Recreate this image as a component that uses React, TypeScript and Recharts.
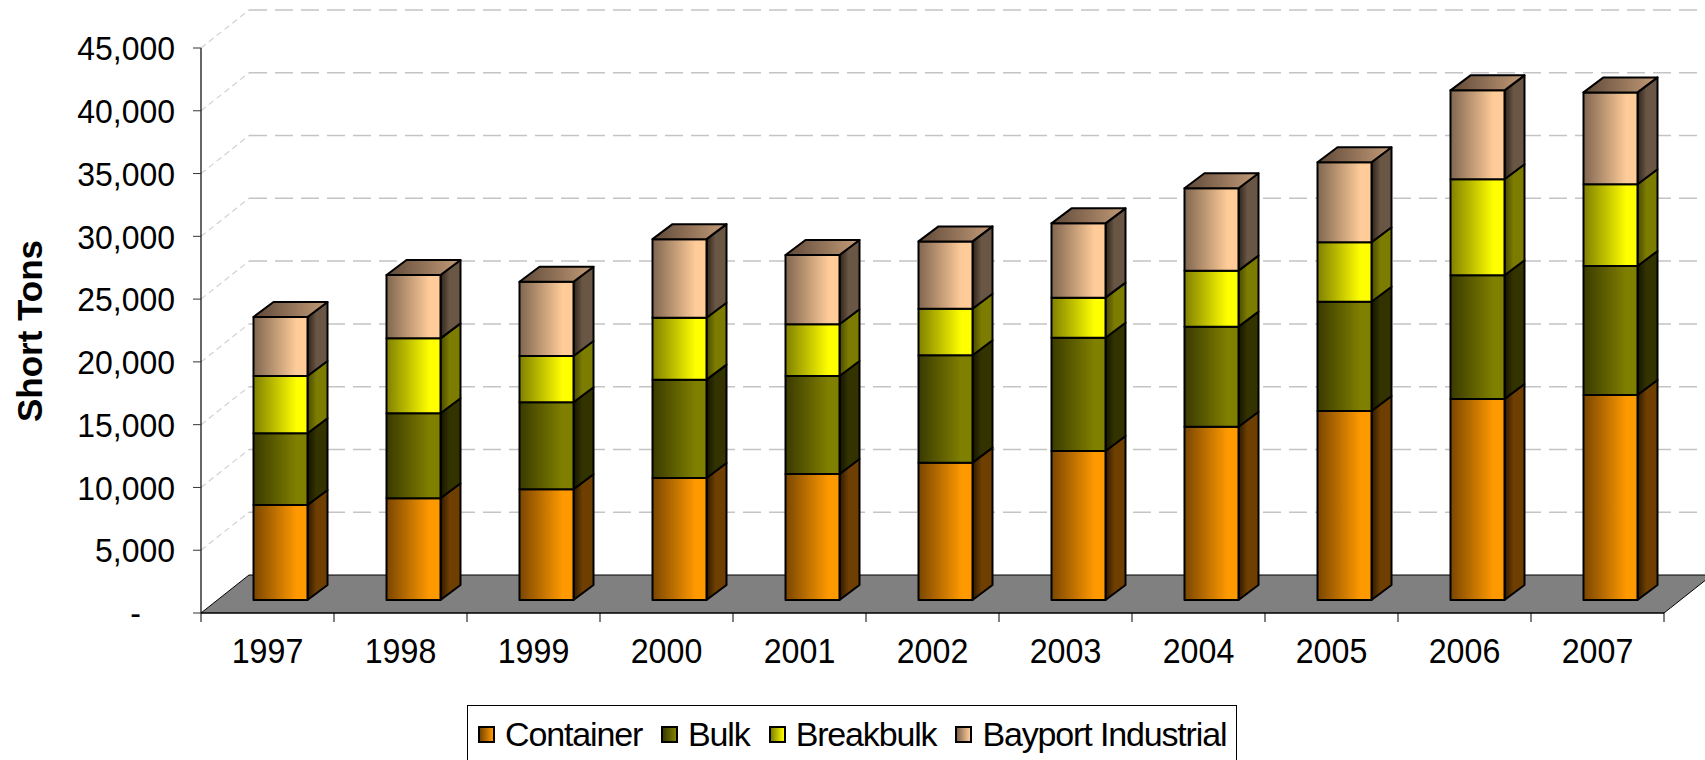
import { Bar, BarChart, CartesianGrid, Legend, XAxis, YAxis } from "recharts";

const YEARS = ["1997", "1998", "1999", "2000", "2001", "2002", "2003", "2004", "2005", "2006", "2007"];
const CONTAINER = [7570, 8100, 8820, 9720, 10040, 10940, 11870, 13800, 15050, 16010, 16330];
const BULK = [5710, 6770, 6930, 7830, 7800, 8550, 9020, 7970, 8710, 9850, 10270];
const BREAKBULK = [4560, 5970, 3680, 4930, 4120, 3710, 3190, 4460, 4730, 7650, 6510];
const BAYPORT = [4700, 5040, 5920, 6260, 5520, 5360, 5920, 6560, 6370, 7080, 7320];
const Y_TICKS = [0, 5000, 10000, 15000, 20000, 25000, 30000, 35000, 40000, 45000];

const SERIES = [
  { key: "container", name: "Container", front: ["#7a4600", "#ff9900"], side: ["#2e1900", "#6e3f00"] },
  { key: "bulk", name: "Bulk", front: ["#3a3a00", "#808000"], side: ["#141400", "#333300"] },
  { key: "breakbulk", name: "Breakbulk", front: ["#808000", "#ffff00"], side: ["#4a4a00", "#7c7c00"] },
  { key: "bayport", name: "Bayport Industrial", front: ["#806650", "#ffcc99"], side: ["#2e241b", "#6a5644"] },
];

const data = YEARS.map((year, i) => ({
  year,
  container: CONTAINER[i],
  bulk: BULK[i],
  breakbulk: BREAKBULK[i],
  bayport: BAYPORT[i],
}));

const W = 1705;
const H = 760;
const PLOT_LEFT = 201;
const PLOT_RIGHT = 1664;
const PLOT_BOTTOM = 613;
// bars stand a little behind the front plane, walls further back
const BAR_DX = 12.5;
const BAR_DY = -13;
const DEPTH_X = 20;
const DEPTH_Y = -15;
const WALL_X = 48;
const WALL_Y = -38;
const FONT = '"Liberation Sans", Arial, Helvetica, sans-serif';

function Box3D(props: any) {
  const { x, y, width, height, idx, isTop } = props;
  if (!height || x == null) return null;
  const h = Math.abs(height);
  const fx = x + BAR_DX;
  const fy = (height < 0 ? y + height : y) + BAR_DY;
  const w = width;
  const edge = { stroke: "#000", strokeWidth: 2, strokeLinejoin: "round" as const };
  return (
    <g>
      <polygon
        points={`${fx + w},${fy} ${fx + w + DEPTH_X},${fy + DEPTH_Y} ${fx + w + DEPTH_X},${fy + h + DEPTH_Y} ${fx + w},${fy + h}`}
        fill={`url(#side${idx})`}
        {...edge}
      />
      <rect x={fx} y={fy} width={w} height={h} fill={`url(#front${idx})`} {...edge} />
      {isTop && (
        <polygon
          points={`${fx},${fy} ${fx + DEPTH_X},${fy + DEPTH_Y} ${fx + w + DEPTH_X},${fy + DEPTH_Y} ${fx + w},${fy}`}
          fill="url(#topface)"
          {...edge}
        />
      )}
    </g>
  );
}

function wallLine(p: any) {
  const { x1, y1, x2 } = p;
  if (Math.abs(y1 - PLOT_BOTTOM) < 1) {
    return (
      <polygon
        key="floor"
        points={`${x1},${y1} ${x1 + WALL_X},${y1 + WALL_Y} ${x2 + WALL_X},${y1 + WALL_Y} ${x2},${y1}`}
        fill="#808080"
        stroke="#000"
        strokeWidth={1}
      />
    );
  }
  return (
    <g key={`wall-${y1}`}>
      <line x1={x1} y1={y1} x2={x1 + WALL_X} y2={y1 + WALL_Y} stroke="#d2d2d2" strokeWidth={1.2} strokeDasharray="6 4" />
      <line
        x1={x1 + WALL_X}
        y1={y1 + WALL_Y}
        x2={x2 + WALL_X}
        y2={y1 + WALL_Y}
        stroke="#c4c4c4"
        strokeWidth={1.5}
        strokeDasharray="18 8"
      />
    </g>
  );
}

function YTick(props: any) {
  const { x, y, payload } = props;
  const v = Number(payload.value);
  const label = v === 0 ? "-" : v.toLocaleString("en-US");
  const tx = v === 0 ? x - 34 : x;
  return (
    <text
      transform={`translate(${tx},${y}) scale(0.94,1)`}
      dy="0.36em"
      textAnchor="end"
      fontFamily={FONT}
      fontSize={34}
      fill="#000"
    >
      {label}
    </text>
  );
}

function YearTick(props: any) {
  const { x, payload, index } = props;
  const band = (PLOT_RIGHT - PLOT_LEFT) / YEARS.length;
  return (
    <g>
      <line x1={x - band / 2} y1={PLOT_BOTTOM} x2={x - band / 2} y2={PLOT_BOTTOM + 9} stroke="#000" />
      {index === YEARS.length - 1 && (
        <line x1={x + band / 2} y1={PLOT_BOTTOM} x2={x + band / 2} y2={PLOT_BOTTOM + 9} stroke="#000" />
      )}
      <text
        transform={`translate(${x},${PLOT_BOTTOM + 50}) scale(0.92,1)`}
        textAnchor="middle"
        fontFamily={FONT}
        fontSize={35}
        fill="#000"
      >
        {payload.value}
      </text>
    </g>
  );
}

function YTitle() {
  return (
    <text
      transform="translate(41.5,331) rotate(-90)"
      textAnchor="middle"
      fontFamily={FONT}
      fontWeight="bold"
      fontSize={35}
      fill="#000"
    >
      Short Tons
    </text>
  );
}

function LegendBox() {
  return (
    <div
      style={{
        boxSizing: "border-box",
        width: 770,
        height: 58,
        border: "1px solid #000",
        background: "#fff",
        display: "flex",
        alignItems: "center",
        paddingLeft: 10,
        fontFamily: FONT,
        fontSize: 34,
        letterSpacing: "-1.15px",
        color: "#000",
        whiteSpace: "nowrap",
      }}
    >
      {SERIES.map((s) => (
        <span key={s.key} style={{ display: "flex", alignItems: "center", marginRight: 19 }}>
          <span
            style={{
              display: "inline-block",
              width: 13,
              height: 13,
              border: "2px solid #000",
              background: `linear-gradient(to right, ${s.front[0]}, ${s.front[1]})`,
              marginRight: 10,
            }}
          />
          {s.name}
        </span>
      ))}
    </div>
  );
}

export default function App() {
  return (
    <div style={{ position: "relative", width: W, height: H, background: "#fff" }}>
      <style>{"body{margin:0;background:#fff}"}</style>
      <svg width={0} height={0} style={{ position: "absolute" }}>
        <defs>
          {SERIES.map((s, i) => (
            <linearGradient key={`f${i}`} id={`front${i}`} x1="0" y1="0" x2="1" y2="0">
              <stop offset="0%" stopColor={s.front[0]} />
              <stop offset="80%" stopColor={s.front[1]} />
              <stop offset="100%" stopColor={s.front[1]} />
            </linearGradient>
          ))}
          {SERIES.map((s, i) => (
            <linearGradient key={`s${i}`} id={`side${i}`} x1="0" y1="0" x2="1" y2="0">
              <stop offset="0%" stopColor={s.side[0]} />
              <stop offset="45%" stopColor={s.side[1]} />
              <stop offset="100%" stopColor={s.side[1]} />
            </linearGradient>
          ))}
          <linearGradient id="topface" x1="0" y1="0" x2="1" y2="0">
            <stop offset="0%" stopColor="#5e4838" />
            <stop offset="100%" stopColor="#c49c78" />
          </linearGradient>
        </defs>
      </svg>
      <BarChart width={W} height={H} data={data} margin={{ top: 48, right: 41, left: 0, bottom: 87 }} barSize={54}>
        <CartesianGrid vertical={false} horizontal={wallLine} />
        <XAxis
          dataKey="year"
          height={60}
          interval={0}
          tickLine={false}
          axisLine={{ stroke: "#000", strokeWidth: 1.2 }}
          tick={<YearTick />}
        />
        <YAxis
          width={201}
          domain={[0, 45000]}
          ticks={Y_TICKS}
          interval={0}
          tickSize={8}
          tickMargin={18}
          tickLine={{ stroke: "#333" }}
          axisLine={{ stroke: "#000", strokeWidth: 1.2 }}
          tick={<YTick />}
          label={<YTitle />}
        />
        <Legend
          layout="horizontal"
          verticalAlign="middle"
          align="center"
          content={() => <LegendBox />}
          wrapperStyle={{ left: 467, top: 705, width: 770, height: 58 }}
        />
        {SERIES.map((s, i) => (
          <Bar
            key={s.key}
            dataKey={s.key}
            name={s.name}
            stackId="t"
            isAnimationActive={false}
            shape={(p: any) => <Box3D {...p} idx={i} isTop={i === SERIES.length - 1} />}
          />
        ))}
      </BarChart>
    </div>
  );
}
